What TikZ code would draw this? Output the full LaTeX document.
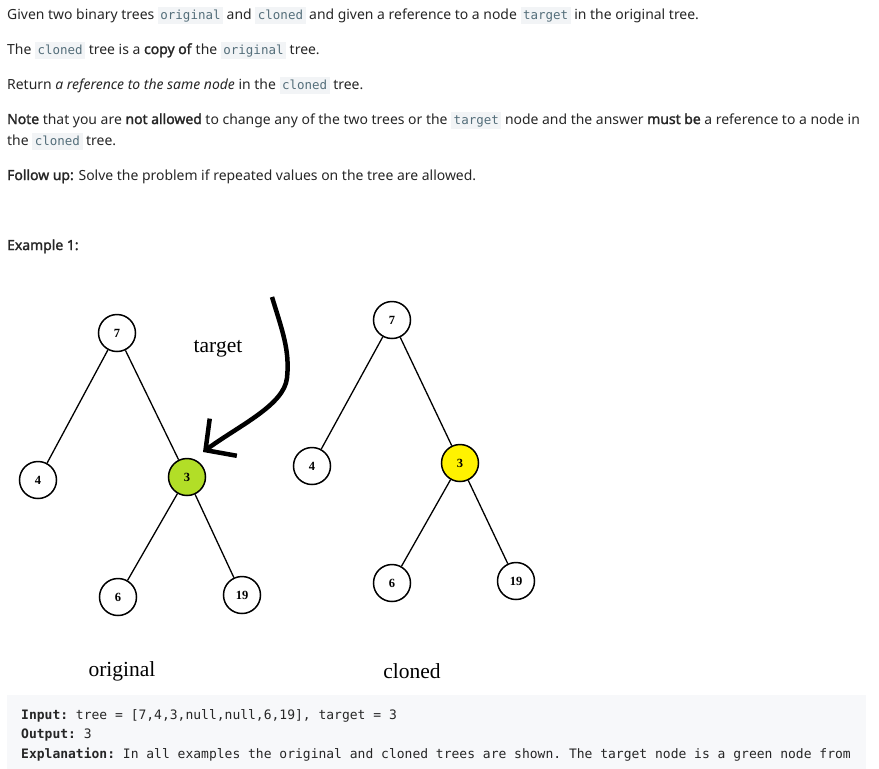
\documentclass[tikz,border=0pt]{standalone}
\usepackage{fontspec}
\setmainfont{Noto Sans}[AutoFakeBold=1.8]
\setmonofont{DejaVu Sans Mono}
\newfontfamily\treefont{Liberation Serif}
\usetikzlibrary{arrows.meta}

\definecolor{txt}{HTML}{262626}
\definecolor{codefg}{HTML}{546E7A}
\definecolor{codebg}{HTML}{F2F4F6}
\definecolor{boxbg}{HTML}{F7F8FA}
\definecolor{lime}{HTML}{B2DE27}
\definecolor{yel}{HTML}{FFF200}

\newcommand{\incode}[1]{{\setlength{\fboxsep}{2.5pt}\colorbox{codebg}{\fontsize{12.5}{14}\ttfamily\color{codefg}\vphantom{Ag}#1}}}

\begin{document}
\begin{tikzpicture}[x=1pt,y=-1pt,
  txtline/.style={anchor=base west,inner sep=0pt,text=txt,font=\fontsize{13.95}{17}\selectfont},
  codeline/.style={anchor=base west,inner sep=0pt,text=txt,font=\fontsize{13}{15}\ttfamily},
  label/.style={inner sep=0pt,font=\treefont\fontsize{21.5}{23}\selectfont},
  treenode/.style={draw,circle,fill=white,line width=1.5pt,minimum size=37pt,inner sep=0pt,font=\treefont\bfseries\fontsize{12.5}{12.5}\selectfont},
  edge/.style={line width=1.3pt}]
\useasboundingbox (0,0) rectangle (879,769);
\fill[white] (0,0) rectangle (879,769);

%% problem text
\node [txtline] (l1) at(7,19){Given two binary trees \incode{original} and \incode{cloned} and given a reference to a node \incode{target} in the original tree.};
\node [txtline] (l2) at(7,54){The \incode{cloned} tree is a \textbf{copy of} the \incode{original} tree.};
\node [txtline] (l3) at(7,89){Return \textit{a reference to the same node} in the \incode{cloned} tree.};
\node [txtline] (l4) at(7,124){\textbf{Note} that you are \textbf{not allowed} to change any of the two trees or the \incode{target} node and the answer \textbf{must be} a reference to a node in};
\node [txtline] (l5) at(7,145){the \incode{cloned} tree.};
\node [txtline] (l6) at(7,180){\textbf{Follow up:} Solve the problem if repeated values on the tree are allowed.};
\node [txtline] (ex) at(7,250){\textbf{Example 1:}};

%% original tree
\node [treenode] (o7) at(117,333){7};
\node [treenode] (o4) at(38,480){4};
\node [treenode,fill=lime] (o3) at(187,477){3};
\node [treenode] (o6) at(118,597){6};
\node [treenode] (o19) at(242,595){19};
\draw[edge](o7) -- (o4);
\draw[edge](o7) -- (o3);
\draw[edge](o3) -- (o6);
\draw[edge](o3) -- (o19);

%% cloned tree
\node [treenode] (c7) at(392,320){7};
\node [treenode] (c4) at(312,466){4};
\node [treenode,fill=yel] (c3) at(460,463){3};
\node [treenode] (c6) at(392,583){6};
\node [treenode] (c19) at(516,581){19};
\draw[edge](c7) -- (c4);
\draw[edge](c7) -- (c3);
\draw[edge](c3) -- (c6);
\draw[edge](c3) -- (c19);

%% target arrow
\node [label] (tg) at(218,349){target};
\coordinate (atop) at(272,297);
\coordinate (atip) at(203,452);
\draw[line width=4.5pt,-{Straight Barb[length=22pt,width=46pt]}](atop) .. controls (282,330) and (290,350) .. (287,378) .. controls (284,405) and (240,425) .. (atip);

\node [label] (lo) at(122,671){original};
\node [label] (lc) at(412,671){cloned};

%% example box
\fill[boxbg] (7,695) rectangle (866,769);
\node [codeline] (in) at(21,719){\textbf{Input:} tree = [7,4,3,null,null,6,19], target = 3};
\node [codeline] (out) at(21,738){\textbf{Output:} 3};
\node [codeline] (expl) at(21,758){\textbf{Explanation:} In all examples the original and cloned trees are shown. The target node is a green node from};
\end{tikzpicture}
\end{document}
